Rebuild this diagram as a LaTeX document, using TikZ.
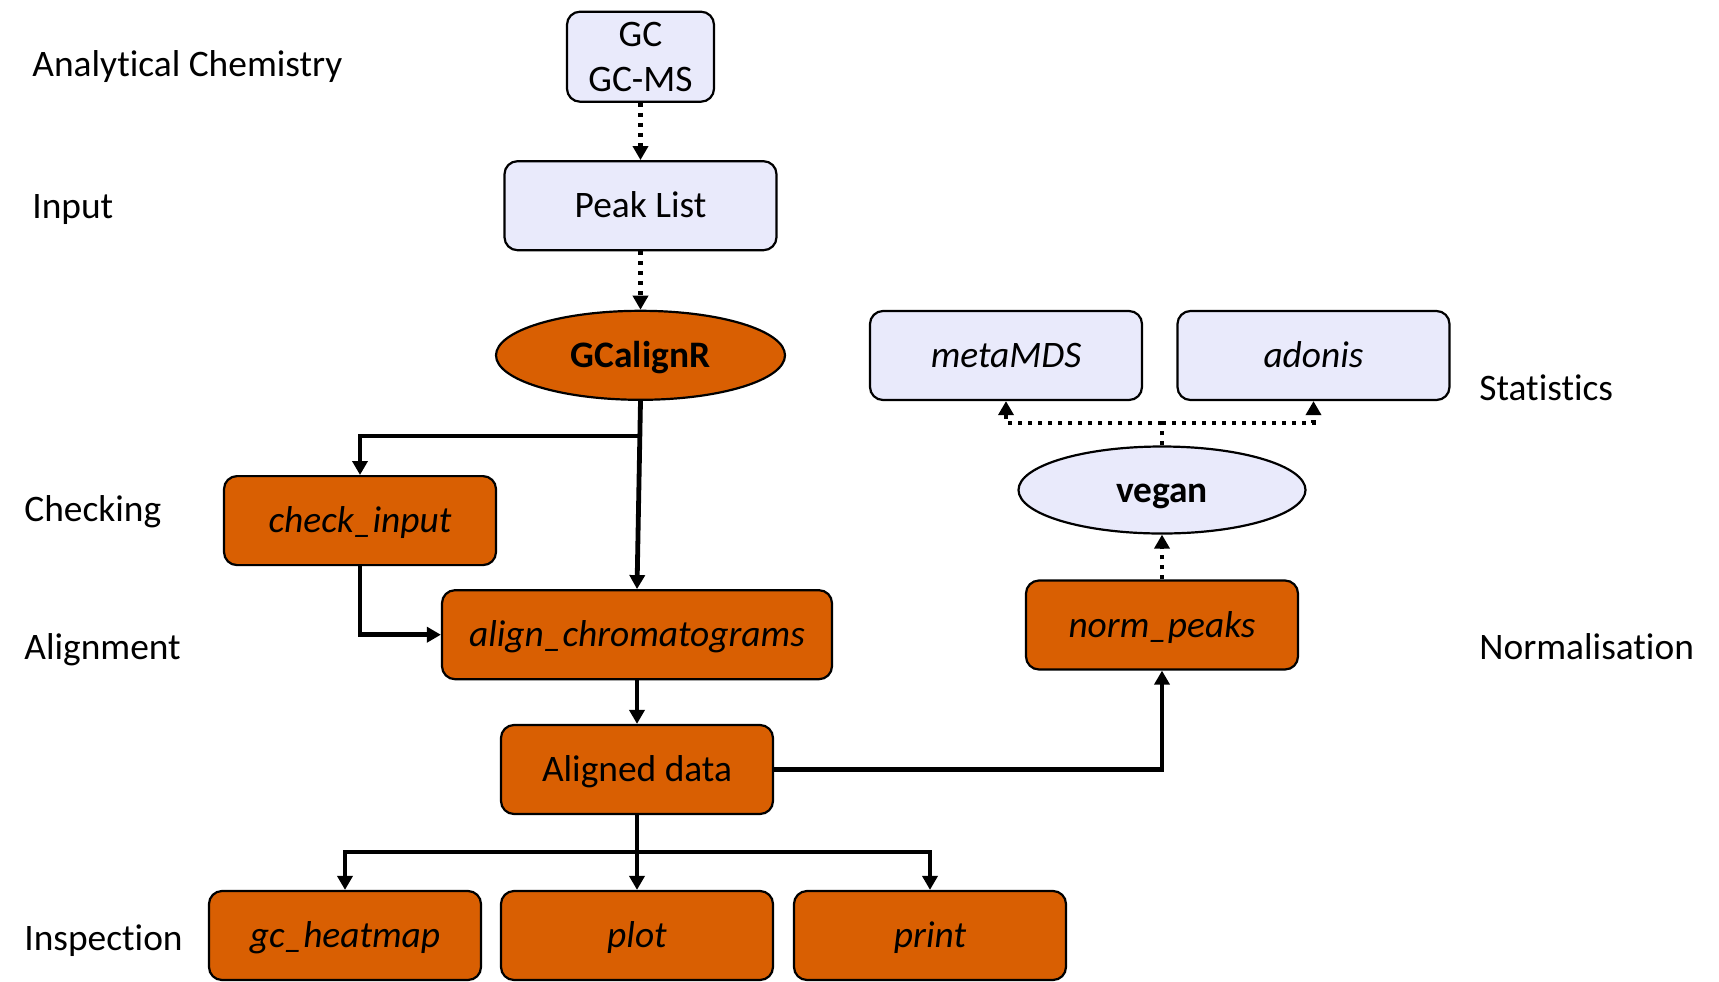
\documentclass[tikz,border=0pt]{standalone}
\usepackage{fontspec}
\setmainfont{Carlito}[Ligatures={NoCommon}]
\usepackage{xcolor}
\usetikzlibrary{shapes,arrows.meta,calc}
\definecolor{boxOrange}{RGB}{217,95,2}
\definecolor{boxLavender}{RGB}{233,234,251}
\tikzstyle{tsText} = [ 
    text=black, 
    font=\fontsize{18.7}{22.5}\selectfont
]
\tikzstyle{tsLabel} = [ 
    tsText, 
    anchor=west,
    inner sep=0pt
]
\tikzstyle{tsRectangle} = [ 
    rectangle,
    rounded corners=6.5pt,
    tsText,
    align=center,
    text height=12pt,
    text depth=0pt,
    draw=black,
    line width=1.1pt,
    minimum width=136pt,
    minimum height=44.5pt]
\tikzstyle{tsEllipse} = [ 
    ellipse,
    tsText,
    font=\fontsize{18.7}{22.5}\selectfont\bfseries,
    text height=12pt,
    text depth=0pt,
    draw=black,
    line width=1.1pt,
    minimum width=144.5pt,
    minimum height=44.5pt]
\tikzstyle{tsArrow} = [ 
    line width=2.4pt,
    -{Triangle[length=7pt,width=7.5pt]}]
\tikzstyle{tsDotted} = [ 
    tsArrow,
    line width=2.2pt,
    dash pattern=on 2pt off 3pt]

\begin{document}
\begin{tikzpicture}[x=0.5pt, y=-0.5pt]

        \useasboundingbox (0,0) rectangle (1719,981);

        % stage labels
        \node[tsLabel] (lblChem) at (32,67) {Analytical Chemistry};
        \node[tsLabel] (lblInput) at (32,210) {Input};
        \node[tsLabel] (lblCheck) at (24,512) {Checking};
        \node[tsLabel] (lblAlign) at (24,650) {Alignment};
        \node[tsLabel] (lblInspect) at (24,941) {Inspection};
        \node[tsLabel] (lblStats) at (1479,388) {Statistics};
        \node[tsLabel] (lblNorm) at (1479,647) {Normalisation};

        % boxes
        \node[tsRectangle, fill=boxLavender, text height=, text depth=, minimum width=73.5pt, minimum height=45pt] (gc) at (640.5,56.7) {GC\\GC-MS};
        \node[tsRectangle, fill=boxLavender] (peaks) at (640.5,205.7) {Peak List};
        \node[tsEllipse, fill=boxOrange] (gcalignr) at (640.5,355.3) {GCalignR};
        \node[tsRectangle, fill=boxOrange] (check) at (360,520.6) {\itshape check\_input};
        \node[tsRectangle, fill=boxOrange, minimum width=195pt] (align) at (637,634.7) {\itshape align\_chromatograms};
        \node[tsRectangle, fill=boxOrange] (aligned) at (637,769.5) {Aligned data};
        \node[tsRectangle, fill=boxOrange] (heatmap) at (345,935.5) {\itshape gc\_heatmap};
        \node[tsRectangle, fill=boxOrange] (plot) at (637,935.5) {\itshape plot};
        \node[tsRectangle, fill=boxOrange] (print) at (930,935.5) {\itshape print};

        \node[tsRectangle, fill=boxLavender] (metamds) at (1006,355.5) {\itshape metaMDS};
        \node[tsRectangle, fill=boxLavender] (adonis) at (1313.5,355.5) {\itshape adonis};
        \node[tsEllipse, fill=boxLavender, minimum width=143.5pt, minimum height=43.5pt] (vegan) at (1162,490) {vegan};
        \node[tsRectangle, fill=boxOrange] (norm) at (1162,625) {\itshape norm\_peaks};

        \coordinate (split1) at (640.5,436);
        \coordinate (split2) at (637,852);
        \coordinate (split3) at (1162,422.7);

        % connectors
        \draw[tsDotted] (gc) -- (peaks);
        \draw[tsDotted] (peaks) -- (gcalignr);
        \draw[tsArrow] (gcalignr.south) -- (align.north);
        \draw[tsArrow] (split1) -| (check.north);
        \draw[tsArrow] (check.south) |- (align.west);
        \draw[tsArrow] (align) -- (aligned);
        \draw[tsArrow] (aligned.east) -| (norm.south);
        \draw[tsArrow] (aligned.south) -- (plot.north);
        \draw[tsArrow] (split2) -| (heatmap.north);
        \draw[tsArrow] (split2) -| (print.north);
        \draw[tsDotted] (norm) -- (vegan);
        \draw[tsDotted, -] (vegan.north) -- (split3);
        \draw[tsDotted] (split3) -| (metamds.south);
        \draw[tsDotted] (split3) -| (adonis.south);

\end{tikzpicture}
\end{document}
